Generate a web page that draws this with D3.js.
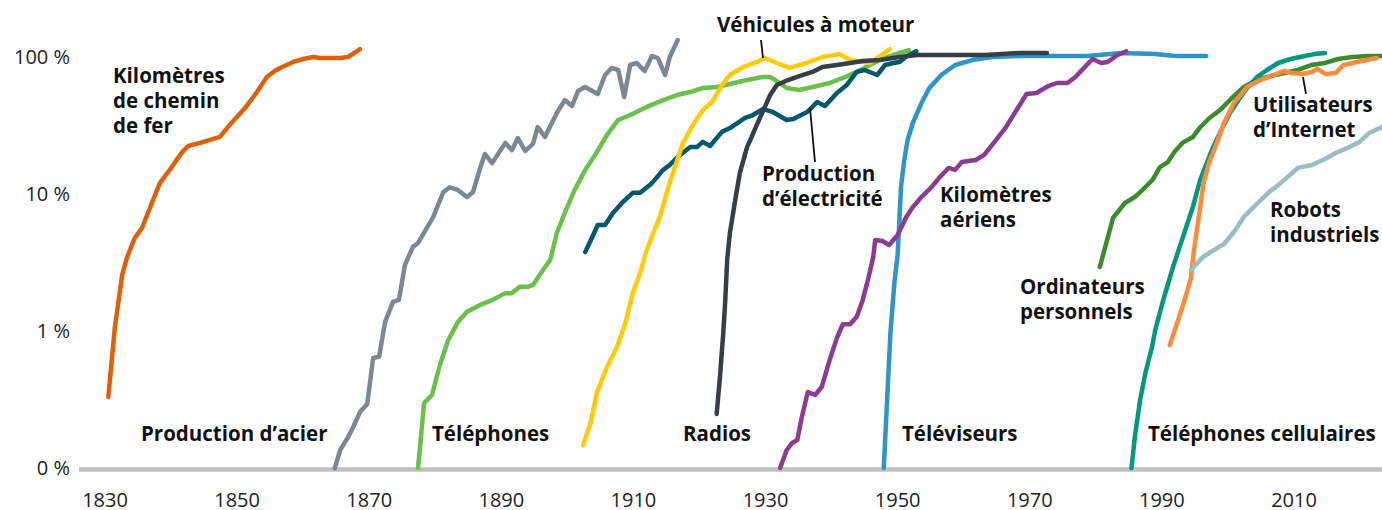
<!DOCTYPE html>
<html>
<head>
<meta charset="utf-8">
<script src="https://cdn.jsdelivr.net/npm/d3@7"></script>
<style>
  body { margin: 0; background: #fff; }
  svg { display: block; font-family: "Open Sans", sans-serif; }
</style>
</head>
<body>
<div id="chart"></div>
<script>
// values in percent; the "0 %" level is the bottom of the log axis (0.1)
const xTicks = [1830, 1850, 1870, 1890, 1910, 1930, 1950, 1970, 1990, 2010];
const yTicks = [0.1, 1, 10, 100];
const yTickLabels = ["0 %", "1 %", "10 %", "100 %"];

const railKm = [[1830.5,0.33],[1831.5,1.07],[1832.6,2.56],[1833.3,3.41],[1834.5,4.77],[1835.6,5.65],[1837.1,8.6],[1838.3,12.0],[1839.8,15.0],[1841.7,20.3],[1842.6,22.4],[1844.4,23.6],[1847.4,26.1],[1848.6,30.8],[1851.2,42.4],[1853,55.5],[1854.5,71.4],[1855.7,79],[1856.5,83.2],[1858.5,92],[1860,96.7],[1861.5,100],[1862.5,98.3],[1865.6,98.3],[1866.8,100],[1868.6,114]];
const steel = [[1864.8,0.1],[1865.6,0.135],[1866.8,0.168],[1867.5,0.196],[1868.6,0.256],[1869.7,0.293],[1870.6,0.635],[1871.5,0.65],[1872.4,1.16],[1873.6,1.63],[1874.5,1.69],[1875.4,3.03],[1876.6,4.1],[1877.4,4.39],[1879.7,6.8],[1881.2,10.3],[1882.2,11.2],[1883.4,10.7],[1884.8,9.5],[1885.7,10.3],[1886.8,15.5],[1887.5,19.6],[1888.6,16.8],[1890.6,23.6],[1891.6,20.9],[1892.5,25.6],[1893.6,20.6],[1894.8,23.2],[1895.5,30.8],[1896.6,26.1],[1898.4,39],[1899.6,48.5],[1900.7,43.9],[1901.6,56.4],[1902.7,60.4],[1904.6,53.7],[1905.7,73.9],[1906.7,83.2],[1907.7,80.4],[1908.6,51],[1909.5,87.4],[1910.5,90.4],[1911.7,79],[1912.8,101.7],[1913.7,98.3],[1914.8,73.9],[1915.5,100],[1916.7,133]];
const telephones = [[1877.4,0.1],[1878.3,0.298],[1879.5,0.341],[1880.7,0.565],[1881.9,0.845],[1883.4,1.16],[1884.8,1.38],[1886.8,1.55],[1888.6,1.68],[1890.6,1.89],[1891.6,1.89],[1892.8,2.1],[1894,2.1],[1894.8,2.17],[1896.3,2.79],[1897.4,3.3],[1898.4,5.19],[1899.6,7.27],[1901.1,10.7],[1902.7,15],[1904.2,19.3],[1906,27],[1907.7,34.7],[1909.5,37.7],[1912,43.2],[1914.5,48.5],[1916.6,52.8],[1918.6,55.5],[1920.5,59.4],[1922.6,60.4],[1924.6,63.5],[1927.2,67.9],[1929.5,71.4],[1930.7,71.4],[1931.7,66.8],[1933.2,59.4],[1935.1,57.4],[1937.8,61.4],[1939.7,64.6],[1941.7,70.3],[1943.8,77.8],[1945.8,87.4],[1947.6,96.7],[1950.3,107],[1951.7,112]];
const electricity = [[1902.7,3.77],[1903.7,4.77],[1904.6,5.94],[1905.7,5.94],[1906.9,7.27],[1908.4,8.74],[1909.9,10.2],[1911,10.2],[1912.8,12],[1914.5,15],[1915.5,16.3],[1916.7,18.6],[1918.6,22],[1919.6,22],[1920.5,24],[1921.6,22.4],[1923.4,28.4],[1924.6,30.3],[1926.9,35.9],[1928.1,37.7],[1929.6,41.7],[1931.1,39.7],[1933.2,34.7],[1934.2,35.3],[1936.3,39.7],[1937.8,46.9],[1939,43.9],[1940.8,54.6],[1942.3,62.5],[1943.8,77.8],[1945,80.4],[1946.9,73.9],[1948.1,87.4],[1949.3,90.4],[1950.3,92],[1951.2,100],[1952.8,110]];
const vehicles = [[1902.4,0.147],[1903.5,0.213],[1904.5,0.359],[1906,0.546],[1907.5,0.764],[1908.7,1.11],[1909.9,1.89],[1911,2.65],[1912,3.9],[1913,5.19],[1914,6.8],[1915.5,12.2],[1917.5,23.6],[1919,31.9],[1920.5,41],[1921.9,46.9],[1923.4,62.5],[1924.6,73.9],[1926.6,84.5],[1928.7,92],[1929.9,98.3],[1931.7,90.4],[1933.6,83.2],[1936.2,90.4],[1938.6,100],[1941.2,105],[1942.8,95],[1945.8,90.4],[1947.6,103.5],[1948.8,114]];
const radios = [[1922.6,0.248],[1923.1,0.462],[1923.6,0.967],[1923.9,1.68],[1924.2,3.35],[1924.6,5.19],[1925.4,9.0],[1926.1,14.2],[1927.2,22],[1927.9,26.1],[1928.8,33],[1929.9,43.2],[1930.7,52.8],[1931.7,62.5],[1933.4,67.9],[1935.1,72.6],[1937.1,77.8],[1938.6,84.5],[1940.8,87.4],[1942.8,90.4],[1944.7,93.5],[1947.3,95],[1950.3,100],[1953,103.5],[1963.3,103.5],[1968.5,107],[1972.6,107]];
const televisions = [[1947.9,0.1],[1948.4,0.313],[1948.9,0.967],[1949.5,2.24],[1950,3.6],[1950.5,11.2],[1951,17.7],[1951.5,24.8],[1952.3,33],[1953.6,46.1],[1954.8,59.4],[1956.6,73.9],[1958.7,87.4],[1961.3,95],[1964.3,100],[1968.5,101.7],[1973.6,101.7],[1978.7,101.7],[1983.9,107],[1989,105],[1992.1,101.7],[1996.7,101.7]];
const airKm = [[1932.2,0.1],[1933.2,0.135],[1934,0.152],[1934.8,0.16],[1935.5,0.236],[1936.4,0.359],[1937.5,0.341],[1938.5,0.39],[1939.7,0.614],[1940.8,0.889],[1941.7,1.12],[1942.8,1.12],[1943.8,1.27],[1944.7,1.68],[1945.5,2.36],[1946.3,3.47],[1946.6,4.62],[1947.7,4.54],[1948.7,4.24],[1950,5.02],[1951.3,6.8],[1952.3,8.04],[1953.6,9.5],[1955.1,11.2],[1956.4,13.3],[1957.7,15.5],[1958.7,15],[1959.7,17.1],[1961.8,17.7],[1963.1,19.3],[1964.9,24.8],[1966.4,30.8],[1968,41],[1969.5,53.7],[1971,54.6],[1972.8,61.4],[1974.1,64.6],[1975.7,64.6],[1976.9,71.4],[1978.2,83.2],[1979.5,96.7],[1980.8,90.4],[1981.8,92],[1983.3,103.5],[1984.6,110]];
const computers = [[1980.6,2.93],[1982.6,6.68],[1984.4,8.6],[1985.9,9.5],[1987.4,11.1],[1988.6,12.7],[1989.7,15.7],[1990.9,17.1],[1991.9,20.3],[1993.1,23.6],[1994.7,26.1],[1995.7,30.3],[1997.2,35.9],[1998.8,41],[2000.6,50.2],[2002.4,60.4],[2004.4,67.9],[2006.5,72.6],[2008.5,76.4],[2010.6,80.4],[2012.6,87.4],[2014.7,90.5],[2016.7,96.7],[2018.8,100],[2021.4,101.7],[2023.4,101.7]];
const cellPhones = [[1985.4,0.1],[1985.9,0.168],[1986.7,0.313],[1987.5,0.494],[1988.5,0.764],[1989,1.02],[1990.2,1.68],[1991.7,2.95],[1993.2,4.88],[1994.7,8.08],[1995.8,12.7],[1997.7,21.7],[1999,29.3],[2000.3,39],[2001.6,48.5],[2002.9,59.4],[2004.4,71.4],[2005.9,80.4],[2007.6,90.4],[2009.5,96.7],[2011.6,101.7],[2013.1,105],[2014.7,107]];
const internetUsers = [[1991.2,0.79],[1992.1,1.07],[1993.3,1.6],[1994.4,2.44],[1994.8,3.71],[1995.6,6.9],[1996.3,12],[1997.1,16.8],[1997.9,20.9],[1999.4,33],[2000.9,46.1],[2002.9,60.4],[2004.9,67.9],[2006.9,73.9],[2008.5,79],[2009.7,76.4],[2011.2,75.2],[2012.7,77.8],[2013.5,81.7],[2014.8,75.2],[2016.3,76.4],[2017.5,87.4],[2019.5,92],[2022.5,98.3]];
const robots = [[1994.4,2.79],[1996.2,3.47],[1997.7,3.84],[1999.4,4.32],[2000.9,5.28],[2002.4,6.8],[2004.2,8.31],[2006.1,10.2],[2007.6,11.6],[2009.4,13.8],[2010.6,15.5],[2012.7,16.3],[2014.7,18],[2016.3,19.9],[2018.1,21.7],[2019.9,24],[2021.4,27.9],[2023.3,30.8]];

// drawing order: later on top
const series = [
  {data: railKm, color: "#df6007"},
  {data: steel, color: "#7a8894"},
  {data: telephones, color: "#6bbf4b"},
  {data: televisions, color: "#2f94c8"},
  {data: airKm, color: "#8a3c91"},
  {data: electricity, color: "#00586f"},
  {data: vehicles, color: "#ffcb05"},
  {data: radios, color: "#363f48"},
  {data: computers, color: "#3a8b2c"},
  {data: cellPhones, color: "#00977e"},
  {data: internetUsers, color: "#ff8b3d"},
  {data: robots, color: "#9bbdc0"}
];

const width = 1382, height = 510;

const x = d3.scaleLinear().domain([1830, 2010]).range([105, 1294]);
const y = d3.scaleLog().domain([0.1, 100]).range([468, 57]);

const svg = d3.select("#chart").append("svg")
  .attr("width", width)
  .attr("height", height);

// baseline
svg.append("line")
  .attr("x1", 79).attr("x2", width)
  .attr("y1", y(0.1) + 1.5).attr("y2", y(0.1) + 1.5)
  .attr("stroke", "#bfbfc1").attr("stroke-width", 4.5);

// y axis labels
svg.append("g").selectAll("text")
  .data(yTicks)
  .enter().append("text")
  .attr("x", 70).attr("y", d => y(d)).attr("dy", "0.36em")
  .attr("text-anchor", "end")
  .style("font-size", "20px").style("fill", "#222")
  .text((d, i) => yTickLabels[i]);

// x axis labels
svg.append("g").selectAll("text")
  .data(xTicks)
  .enter().append("text")
  .attr("x", d => x(d)).attr("y", 500).attr("dy", "0.36em")
  .attr("text-anchor", "middle")
  .style("font-size", "20px").style("fill", "#222")
  .text(d => d);

const line = d3.line().x(d => x(d[0])).y(d => y(d[1]));

svg.append("g").selectAll("path")
  .data(series)
  .enter().append("path")
  .attr("d", d => line(d.data))
  .attr("fill", "none")
  .attr("stroke", d => d.color)
  .attr("stroke-width", 4.5)
  .attr("stroke-linejoin", "round")
  .attr("stroke-linecap", "round");

// leader lines
const leaders = [[761, 40, 763, 58], [810, 108, 815, 162], [1303, 77, 1306, 94]];
svg.append("g").selectAll("line")
  .data(leaders)
  .enter().append("line")
  .attr("x1", d => d[0]).attr("y1", d => d[1])
  .attr("x2", d => d[2]).attr("y2", d => d[3])
  .attr("stroke", "#111").attr("stroke-width", 1.8);

// labels
const labels = [
  {lines: ["Kilomètres", "de chemin", "de fer"], x: 113, y: 76},
  {lines: ["Production d’acier"], x: 141, y: 434},
  {lines: ["Téléphones"], x: 432, y: 434},
  {lines: ["Radios"], x: 683, y: 434},
  {lines: ["Téléviseurs"], x: 902, y: 434},
  {lines: ["Téléphones cellulaires"], x: 1148, y: 434},
  {lines: ["Véhicules à moteur"], x: 717, y: 25},
  {lines: ["Production", "d’électricité"], x: 762, y: 174},
  {lines: ["Kilomètres", "aériens"], x: 940, y: 195},
  {lines: ["Ordinateurs", "personnels"], x: 1020, y: 287},
  {lines: ["Utilisateurs", "d’Internet"], x: 1253, y: 105},
  {lines: ["Robots", "industriels"], x: 1270, y: 210}
];

labels.forEach(l => {
  const t = svg.append("text")
    .attr("x", l.x).attr("y", l.y)
    .style("font-size", "20.5px").style("font-weight", 700).style("fill", "#111");
  l.lines.forEach((s, i) => {
    t.append("tspan").attr("x", l.x).attr("y", l.y + i * 25).attr("dy", "0.36em").text(s);
  });
});
</script>
</body>
</html>
